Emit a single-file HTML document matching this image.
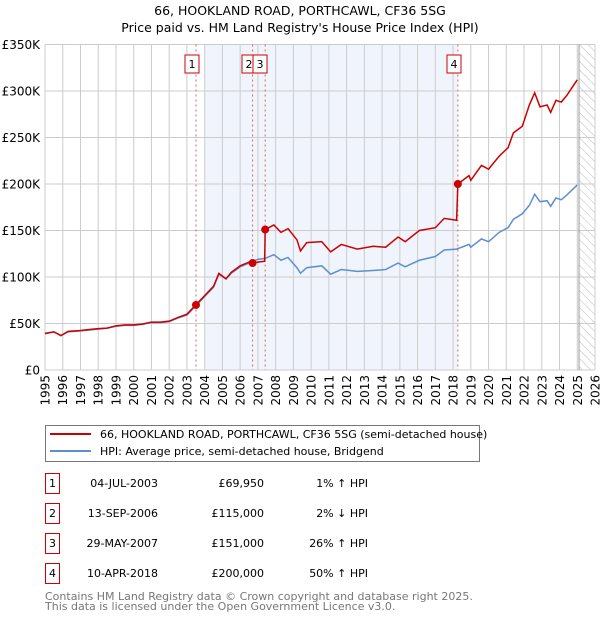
<!DOCTYPE html>
<html><head><meta charset="utf-8"><style>
body{margin:0;background:#fff;font-family:"DejaVu Sans","Liberation Sans",sans-serif}
svg text{font-family:"DejaVu Sans","Liberation Sans",sans-serif}
</style></head><body>
<svg id="c" width="600" height="620" viewBox="0 0 600 620">
<defs><pattern id="hatch" width="6" height="6" patternUnits="userSpaceOnUse" patternTransform="rotate(-45)"><line x1="0" y1="0" x2="0" y2="6" stroke="#bbb" stroke-width="1"/></pattern></defs>
<text x="300" y="15" text-anchor="middle" font-size="12.5" fill="#000">66, HOOKLAND ROAD, PORTHCAWL, CF36 5SG</text>
<text x="300" y="32" text-anchor="middle" font-size="12.5" fill="#000">Price paid vs. HM Land Registry's House Price Index (HPI)</text>
<g id="plot"></g>
<g>
<rect x="45.5" y="425.5" width="434" height="36" fill="#fff" stroke="#777"/>
<line x1="50" y1="434" x2="91" y2="434" stroke="#cc0000" stroke-width="2"/>
<text x="100" y="438" font-size="11">66, HOOKLAND ROAD, PORTHCAWL, CF36 5SG (semi-detached house)</text>
<line x1="50" y1="451" x2="91" y2="451" stroke="#5b8fd0" stroke-width="2"/>
<text x="100" y="455" font-size="11">HPI: Average price, semi-detached house, Bridgend</text>
</g>
<g id="table" font-size="11"></g>
<text x="45" y="600" font-size="11" fill="#777">Contains HM Land Registry data © Crown copyright and database right 2025.</text>
<text x="45" y="610" font-size="11" fill="#777">This data is licensed under the Open Government Licence v3.0.</text>
</svg>
<script>
const hpiYears=[1995,1995.5,1995.9,1996.3,1997,1997.5,1998,1998.5,1999,1999.5,2000,2000.5,2001,2001.5,2002,2002.5,2003,2003.5,2004,2004.5,2004.8,2005.2,2005.5,2006,2006.5,2006.7,2007.0,2007.4,2007.9,2008.3,2008.7,2009.2,2009.4,2009.75,2010.6,2011.1,2011.7,2012.6,2013.5,2014.2,2014.9,2015.3,2016.1,2017.0,2017.5,2018.2,2018.9,2019.0,2019.6,2020.0,2020.6,2021.1,2021.4,2021.9,2022.3,2022.6,2022.9,2023.3,2023.5,2023.8,2024.1,2024.4,2025.0];
const hpiValues=[39,41,37,41,42,43,44,45,47,48,48,49,51,51,52,56,59,69,79,89,103,98,104,111,115,117,119,120,124,118,121,110,104,110,112,103,108,106,107,108,115,111,118,122,129,130,135,132,141,138,148,153,162,168,177,189,181,182,176,185,183,188,199];
const priceYears=[1995,1995.5,1995.9,1996.3,1997,1997.5,1998,1998.5,1999,1999.5,2000,2000.5,2001,2001.5,2002,2002.5,2003,2003.5,2004,2004.5,2004.8,2005.2,2005.5,2006,2006.5,2006.7,2007.0,2007.38,2007.41,2007.9,2008.3,2008.7,2009.2,2009.4,2009.75,2010.6,2011.1,2011.7,2012.6,2013.5,2014.2,2014.9,2015.3,2016.1,2017.0,2017.5,2018.2,2018.27,2018.9,2019.0,2019.6,2020.0,2020.6,2021.1,2021.4,2021.9,2022.3,2022.6,2022.9,2023.3,2023.5,2023.8,2024.1,2024.4,2025.0];
const priceValues=[39.4,41,37,41.5,42.5,43.5,44.5,45,47.5,48.5,48.5,49.5,51.5,51.5,52.5,56.5,60,70,80,90,104,98,105,112,116,115,116,117,151,156,148,152,140,128,137,138,127,135,130,133,132,143,138,150,153,163,161,200,209,204,220,216,230,239,255,262,285,298,283,285,277,290,288,295,312];
const saleLabels=["1","2","3","4"];
const saleYears=[2003.51,2006.70,2007.41,2018.27];
const salePrices=[69.95,115,151,200];
const saleDates=["04-JUL-2003","13-SEP-2006","29-MAY-2007","10-APR-2018"];
const salePriceText=["£69,950","£115,000","£151,000","£200,000"];
const saleHpiText=["1% ↑ HPI","2% ↓ HPI","26% ↑ HPI","50% ↑ HPI"];
const yTicks=[0,50,100,150,200,250,300,350];
const xTicks=[1995,1996,1997,1998,1999,2000,2001,2002,2003,2004,2005,2006,2007,2008,2009,2010,2011,2012,2013,2014,2015,2016,2017,2018,2019,2020,2021,2022,2023,2024,2025,2026];

const NS="http://www.w3.org/2000/svg";
const X0=45,X1=595,Y0=370,Y1=44.5;
const xs=y=>X0+(y-1995)/(2026-1995)*(X1-X0);
const ys=v=>Y0-v/350*(Y0-Y1);
function mk(tag,attrs,parent,text){const e=document.createElementNS(NS,tag);for(const k in attrs)e.setAttribute(k,attrs[k]);if(text!==undefined)e.textContent=text;parent.appendChild(e);return e;}
const plot=document.getElementById('plot');
const bg=mk('rect',{x:X0,y:Y1,width:X1-X0,height:Y0-Y1,fill:'#fff'},plot);


const sh=mk('rect',{x:xs(2004),y:Y1,width:xs(saleYears[3])-xs(2004),height:Y0-Y1,fill:'#f0f4fd'},plot);


const ht=mk('rect',{x:xs(2025.1),y:Y1,width:X1-xs(2025.1),height:Y0-Y1,fill:'url(#hatch)'},plot);


xTicks.forEach((t,i)=>{
  const l=mk('line',{x1:xs(t),x2:xs(t),y1:Y1,y2:Y0,stroke:'#ccc','stroke-width':1},plot);
  
  
  const px=xs(t)+4.5, py=375;
  const tx=mk('text',{x:px,y:py,'text-anchor':'end','font-size':12,transform:'rotate(-90 '+px+' '+py+')'},plot,String(t));
  
  
});
yTicks.forEach(t=>{
  const l=mk('line',{x1:X0,x2:X1,y1:ys(t),y2:ys(t),stroke:'#ccc','stroke-width':1},plot);
  
  
  const tx=mk('text',{x:40,y:ys(t)+4.5,'text-anchor':'end','font-size':12},plot,t===0?'£0':'£'+t+'K');
  
  
});
const ed=mk('line',{x1:xs(2025.1),x2:xs(2025.1),y1:Y1,y2:Y0,stroke:'#999','stroke-width':1},plot);


saleYears.forEach((s,i)=>{
  const l=mk('line',{x1:xs(s),x2:xs(s),y1:Y1,y2:Y0,stroke:'#e06060','stroke-width':1,'stroke-dasharray':'2,3'},plot);
  
  
});
const hp=mk('polyline',{points:hpiYears.map((y,i)=>xs(y)+','+ys(hpiValues[i])).join(' '),fill:'none',stroke:'#5b8fd0','stroke-width':1.5},plot);


const pp=mk('polyline',{points:priceYears.map((y,i)=>xs(y)+','+ys(priceValues[i])).join(' '),fill:'none',stroke:'#cc0000','stroke-width':1.5},plot);


const boxX=[192,249,260,454];
saleYears.forEach((s,i)=>{
  const d=mk('circle',{cx:xs(s),cy:ys(salePrices[i]),r:4,fill:'#cc0000'},plot);
  
  
  const cx=boxX[i];
  const r=mk('rect',{x:cx-7,y:55,width:14,height:18,fill:'#fff',stroke:'#cc0000'},plot);
  
  
  const t=mk('text',{x:cx,y:68,'text-anchor':'middle','font-size':11},plot,saleLabels[i]);
  
  
});
const tb=document.getElementById('table');
saleLabels.forEach((lab,i)=>{
  const cy=483+i*30;
  const r=mk('rect',{x:45.5,y:cy-9.5,width:14,height:20,fill:'#fff',stroke:'#cc0000'},tb);
  
  
  const a=mk('text',{x:52.5,y:cy+4,'text-anchor':'middle'},tb,lab);
  
  
  const b=mk('text',{x:158,y:cy+4,'text-anchor':'end'},tb,saleDates[i]);
  
  
  const c=mk('text',{x:264,y:cy+4,'text-anchor':'end'},tb,salePriceText[i]);
  
  
  const d=mk('text',{x:368,y:cy+4,'text-anchor':'end'},tb,saleHpiText[i]);
  
  
});
</script>
</body></html>
